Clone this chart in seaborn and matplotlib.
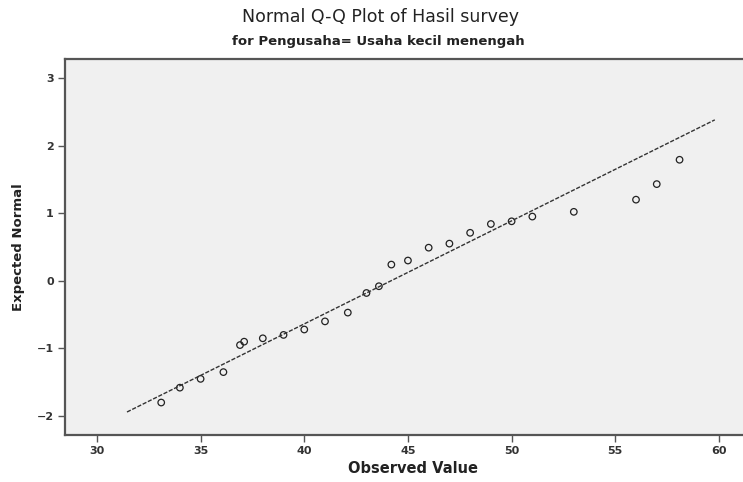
import numpy as np
import pandas as pd
import matplotlib
matplotlib.use("Agg")
import matplotlib.pyplot as plt
import seaborn as sns

# data (Normal Q-Q plot, SPSS style)
observed = [33.1, 34.0, 35.0, 36.1, 36.9, 37.1, 38.0, 39.0, 40.0, 41.0, 42.1,
            43.0, 43.6, 44.2, 45.0, 46.0, 47.0, 48.0, 49.0, 50.0, 51.0,
            53.0, 56.0, 57.0, 58.1]
expected = [-1.80, -1.58, -1.45, -1.35, -0.95, -0.90, -0.85, -0.80, -0.72, -0.60, -0.47,
            -0.18, -0.08, 0.24, 0.30, 0.49, 0.55, 0.71, 0.84, 0.88, 0.95,
            1.02, 1.20, 1.43, 1.79]
line_x = [31.45, 59.8]
line_y = [-1.94, 2.38]
x_ticks = [30, 35, 40, 45, 50, 55, 60]
y_ticks = [-2, -1, 0, 1, 2, 3]

df = pd.DataFrame({"Observed Value": observed, "Expected Normal": expected})
df_line = pd.DataFrame({"x": line_x, "y": line_y})

sns.set_theme(style="white")
plt.rcParams['font.family'] = ['DejaVu Sans']

fig = plt.figure(figsize=(7.43, 4.82), dpi=100)
ax = fig.add_axes([65/743, 47/482, 695/743, 376/482])
ax.set_facecolor('#f0f0f0')

sns.lineplot(data=df_line, x="x", y="y", ax=ax, color='#333333', linewidth=1.0,
             linestyle=(0, (3, 1.2)))
sns.scatterplot(data=df, x="Observed Value", y="Expected Normal", ax=ax, s=22,
                facecolors='none', edgecolor='#222222', linewidth=0.9, marker='o')

ax.set_xlim(28.46, 61.98)
ax.set_ylim(-2.28, 3.28)
ax.set_xticks(x_ticks)
ax.set_yticks(y_ticks)
ax.tick_params(axis='both', which='both', direction='out', length=5, width=1,
               color='#555555', labelsize=8, pad=3, left=True, bottom=True)
for lab in ax.get_xticklabels() + ax.get_yticklabels():
    lab.set_fontweight('bold')
    lab.set_color('#333333')

for side in ['left', 'bottom', 'top']:
    ax.spines[side].set_color('#555555')
    ax.spines[side].set_linewidth(1.6)
ax.spines['right'].set_visible(False)

ax.set_xlabel('Observed Value', fontsize=10.5, fontweight='bold', color='#222222')
ax.set_ylabel('Expected Normal', fontsize=9.5, fontweight='bold', color='#222222')
ax.xaxis.set_label_coords(0.5, -26/376)
ax.yaxis.set_label_coords(-40/695, 0.5)

fig.text(380/743, 1 - 17/482, 'Normal Q-Q Plot of Hasil survey', ha='center', va='center',
         fontsize=12.5, color='#222222')
fig.text(378/743, 1 - 42/482, 'for Pengusaha= Usaha kecil menengah', ha='center', va='center',
         fontsize=9.5, fontweight='bold', color='#222222')

fig.savefig('out.png', dpi=100)
